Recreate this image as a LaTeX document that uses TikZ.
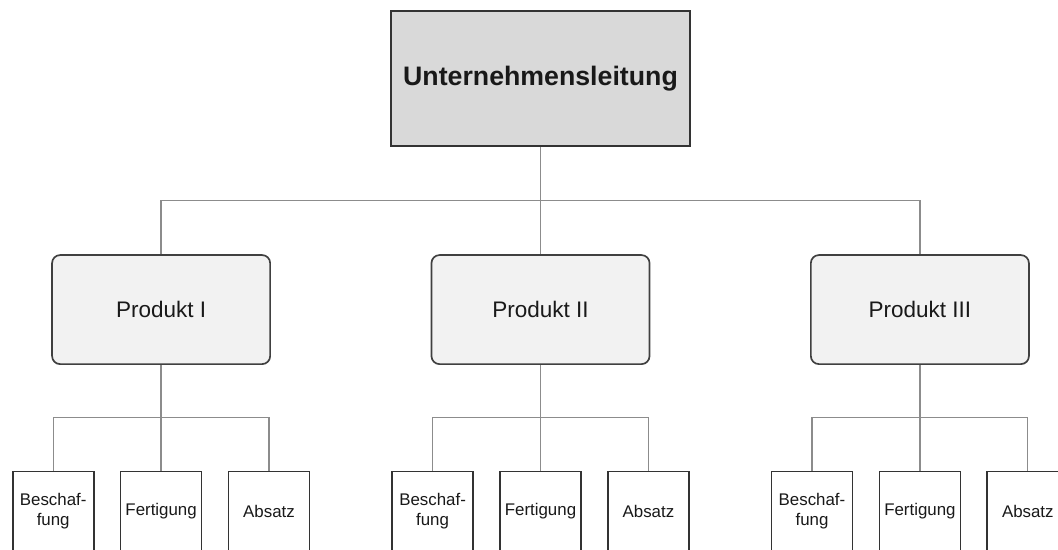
\documentclass[tikz,border=0pt]{standalone}
\usepackage{fontspec}
\setmainfont{Liberation Sans}
\usetikzlibrary{positioning,calc}

\begin{document}
\begin{tikzpicture}[
    x=0.025cm, y=-0.025cm,
    node distance=0.63cm,
    leitung/.style={draw=black!80, line width=1.4pt, fill=black!15, minimum width=7.475cm, minimum height=3.375cm, align=center, font=\fontsize{19}{23}\selectfont\bfseries, text=black!90},
    produkt/.style={draw=black!75, line width=1.2pt, rounded corners=0.2cm, fill=black!5, minimum width=5.45cm, minimum height=2.725cm, align=center, font=\fontsize{16}{19}\selectfont, text=black!90},
    stelle/.style={draw=black!80, line width=1.2pt, fill=white, inner sep=1pt, minimum width=2.025cm, minimum height=2cm, align=center, font=\fontsize{12}{14.5}\selectfont, text=black!90},
    conn/.style={draw=black!45, line width=0.9pt}
]
\clip (0,0) rectangle (1058,549);
\node[leitung] (top) at (540.5,78.5) {Unternehmensleitung};
\node[produkt, below=2.68cm of top] (p2) {Produkt II};
\node[produkt, left=3.99cm of p2] (p1) {Produkt I};
\node[produkt, right=3.99cm of p2] (p3) {Produkt III};
% Bereiche unter den Produkten
\node[stelle, below=2.64cm of p1] (fert1) {Fertigung};
\node[stelle, left=of fert1] (besch1) {Beschaf-\\fung};
\node[stelle, right=of fert1] (abs1) {Absatz};
\node[stelle, below=2.64cm of p2] (fert2) {Fertigung};
\node[stelle, left=of fert2] (besch2) {Beschaf-\\fung};
\node[stelle, right=of fert2] (abs2) {Absatz};
\node[stelle, below=2.64cm of p3] (fert3) {Fertigung};
\node[stelle, left=of fert3] (besch3) {Beschaf-\\fung};
\node[stelle, right=of fert3] (abs3) {Absatz};
% Verbindungen
\coordinate (j0) at ($(top.south)!0.5!(p2.north)$);
\coordinate (j1) at ($(p1.south)!0.5!(fert1.north)$);
\coordinate (j2) at ($(p2.south)!0.5!(fert2.north)$);
\coordinate (j3) at ($(p3.south)!0.5!(fert3.north)$);
\draw[conn] (top.south) -- (j0);
\draw[conn] (p1.north) |- (j0) -| (p3.north);
\draw[conn] (j0) -- (p2.north);
\draw[conn] (p1.south) -- (fert1.north);
\draw[conn] (besch1.north) |- (j1) -| (abs1.north);
\draw[conn] (p2.south) -- (fert2.north);
\draw[conn] (besch2.north) |- (j2) -| (abs2.north);
\draw[conn] (p3.south) -- (fert3.north);
\draw[conn] (besch3.north) |- (j3) -| (abs3.north);
\end{tikzpicture}
\end{document}
